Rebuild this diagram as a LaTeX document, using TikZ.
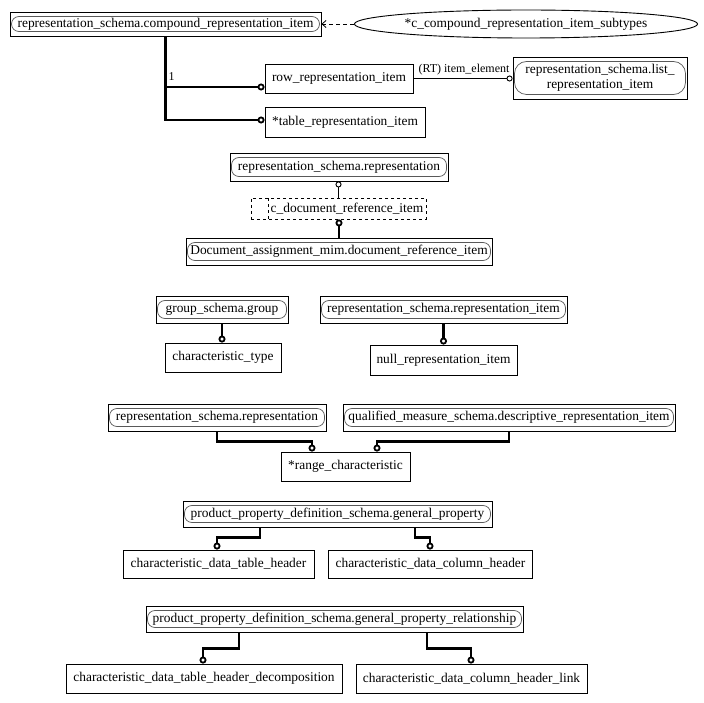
\documentclass[tikz,border=0pt]{standalone}
\usepackage{fontspec}
\setmainfont{Liberation Serif}
\usetikzlibrary{shapes.geometric,arrows.meta}
\begin{document}
\begin{tikzpicture}[x=1pt,y=-1pt,
  every node/.style={font=\fontsize{13.4}{15}\selectfont, inner sep=0pt},
  wh/.style 2 args={minimum width=#1pt, minimum height=#2pt},
  ent/.style={draw, line width=0.9pt},
  sch/.style={ent, path picture={\draw[line width=0.7pt, black!65, rounded corners=#1]
      ([shift={(1.5pt,4.5pt)}]path picture bounding box.south west) rectangle
      ([shift={(-1.5pt,-4.5pt)}]path picture bounding box.north east);}},
  sch/.default=7.5pt,
  thickc/.style={line width=2.5pt, -{Circle[open, length=7pt, width=7pt, line width=1.8pt]}},
  thinc/.style={line width=0.9pt, -{Circle[open, length=6pt, width=6pt]}},
  dashline/.style={line width=0.8pt, dash pattern=on 4pt off 3pt, -{Straight Barb[length=4pt,width=7pt]}},
  lbl/.style={font=\fontsize{12}{14}\selectfont}
]
\fill[white] (0,0) rectangle (704,703);
\useasboundingbox (0,0) rectangle (704,703);

\node[sch, wh={311}{24}] (compound) at (165.5,24) {representation\_schema.compound\_representation\_item};
\node[ent, ellipse, wh={339}{28}] (subt) at (526,24) {*c\_compound\_representation\_item\_subtypes};
\node[ent, wh={148}{29}] (row) at (339,78.5) {row\_representation\_item};
\node[ent, wh={160}{30}] (table) at (345,122) {*table\_representation\_item};
\node[sch=12pt, wh={174}{42}, align=center] (list) at (600,78) {representation\_schema.list\_\\representation\_item};

\node[sch, wh={218}{28}] (rep1) at (339,167) {representation\_schema.representation};
\node[ent, dashed, wh={175}{21}, path picture={\draw[dashed, line width=0.9pt]
   ([xshift=17pt]path picture bounding box.south west) -- ([xshift=17pt]path picture bounding box.north west);}]
   (cdoc) at (338.5,208.5) {\hspace*{17pt}c\_document\_reference\_item};
\node[sch, wh={306}{27}] (doc) at (339,251.5) {Document\_assignment\_mim.document\_reference\_item};

\node[sch, wh={132}{27}] (group) at (222,309.5) {group\_schema.group};
\node[ent, wh={116}{29}] (ctype) at (223,357.5) {characteristic\_type};
\node[sch, wh={247}{27}] (rep2) at (443.5,309.5) {representation\_schema.representation\_item};
\node[ent, wh={147}{30}] (null) at (443.5,360) {null\_representation\_item};

\node[sch, wh={218}{27}] (rep3) at (217,417.5) {representation\_schema.representation};
\node[sch, wh={332}{27}] (qual) at (509,417.5) {qualified\_measure\_schema.descriptive\_representation\_item};
\node[ent, wh={129}{29}] (range) at (345.5,466.5) {*range\_characteristic};

\node[sch, wh={309}{26}] (gp) at (337.5,514) {product\_property\_definition\_schema.general\_property};
\node[ent, wh={191}{28}] (th) at (218.5,564) {characteristic\_data\_table\_header};
\node[ent, wh={204}{28}] (ch) at (430.5,564) {characteristic\_data\_column\_header};

\node[sch, wh={377}{26}] (gpr) at (334.5,619) {product\_property\_definition\_schema.general\_property\_relationship};
\node[ent, wh={276}{29}] (thd) at (204,678.5) {characteristic\_data\_table\_header\_decomposition};
\node[ent, wh={231}{29}] (chl) at (471.5,678.5) {characteristic\_data\_column\_header\_link};

% connectors
\draw[dashline] (subt.west) -- (compound.east);
\draw[thickc] (compound.south) |- ([yshift=-8.5pt]row.west);
\draw[thickc] (compound.south) |- ([yshift=2pt]table.west);
\node[lbl, anchor=west] (one) at ([xshift=3pt,yshift=-40pt]compound.south) {1};
\draw[thinc] (row.east) -- (row.east -| list.west);
\node[lbl] (rtlbl) at (464,70) {(RT) item\_element};

\draw[thinc] (cdoc.north) -- (cdoc.north |- rep1.south);
\draw[thickc] (doc.north) -- (doc.north |- cdoc.south);
\draw[thickc] (group.south) -- (group.south |- ctype.north);
\draw[thickc] (rep2.south) -- (rep2.south |- null.north);
\draw[thickc] (rep3.south) -- ++(0,10) -| ([xshift=-33.5pt]range.north);
\draw[thickc] (qual.south) -- ++(0,10) -| ([xshift=31.5pt]range.north);
\draw[thickc] ([xshift=-77.5pt]gp.south) -- ++(0,10) -| ([xshift=-1.5pt]th.north);
\draw[thickc] ([xshift=77.5pt]gp.south) -- ++(0,10) -| ([xshift=-0.5pt]ch.north);
\draw[thickc] ([xshift=-95.5pt]gpr.south) -- ++(0,16) -| ([xshift=-1pt]thd.north);
\draw[thickc] ([xshift=92.5pt]gpr.south) -- ++(0,16) -| ([xshift=-0.5pt]chl.north);
\end{tikzpicture}
\end{document}
